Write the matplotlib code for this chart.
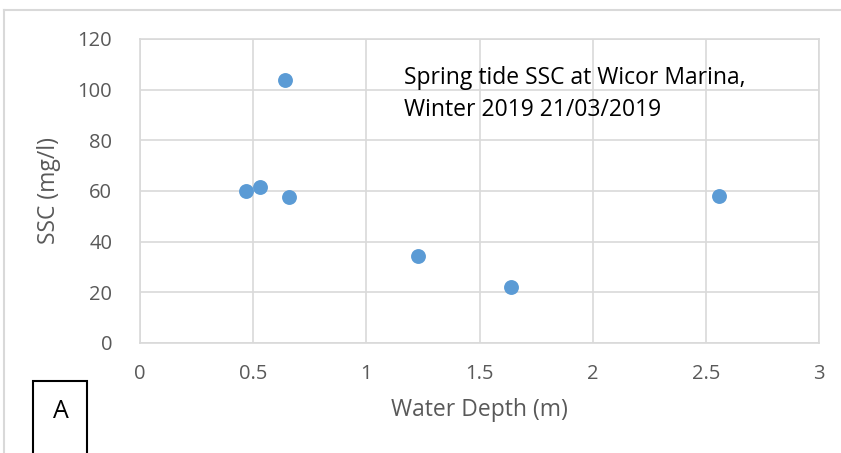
import matplotlib.pyplot as plt
from matplotlib.patches import Rectangle

plt.rcParams['font.family'] = ['Open Sans', 'DejaVu Sans']

# data
depth_m = [0.47, 0.53, 0.64, 0.66, 1.23, 1.64, 2.56]
ssc_mg_l = [60, 61.5, 104, 57.5, 34.5, 22, 58]

x_ticks = [0, 0.5, 1, 1.5, 2, 2.5, 3]
x_tick_labels = ['0', '0.5', '1', '1.5', '2', '2.5', '3']
y_ticks = [0, 20, 40, 60, 80, 100, 120]

W, H = 841, 453
fig = plt.figure(figsize=(W / 100, H / 100), dpi=100)
fig.patch.set_facecolor('white')

# outer chart frame (light grey, left + top visible)
fig.add_artist(plt.Line2D([4 / W, 4 / W], [0, 1 - 10 / H], color='#d9d9d9', lw=1.5,
                          transform=fig.transFigure))
fig.add_artist(plt.Line2D([4 / W, 1], [1 - 10 / H, 1 - 10 / H], color='#d9d9d9', lw=1.5,
                          transform=fig.transFigure))

ax = fig.add_axes([140 / W, (H - 343) / H, 679 / W, 304 / H])
ax.scatter(depth_m, ssc_mg_l, s=115, color='#5b9bd5', zorder=3, linewidths=0)

ax.set_xlim(0, 3)
ax.set_ylim(0, 120)
ax.set_xticks(x_ticks)
ax.set_xticklabels(x_tick_labels)
ax.set_yticks(y_ticks)
ax.grid(True, color='#d9d9d9', lw=1.2)
ax.set_axisbelow(True)
for s in ax.spines.values():
    s.set_color('#d9d9d9')
    s.set_linewidth(1.2)
ax.tick_params(length=0, colors='#595959', labelsize=14.5)
ax.tick_params(axis='x', pad=15)
ax.tick_params(axis='y', pad=20)

ax.set_xlabel('Water Depth (m)', color='#595959', fontsize=16.5, labelpad=10)
ax.set_ylabel('SSC (mg/l)', color='#595959', fontsize=16.5, labelpad=12)

ax.text(404 / W, 1 - 94 / H, 'Spring tide SSC at Wicor Marina,\nWinter 2019 21/03/2019',
        transform=fig.transFigure, fontsize=16.5, color='black', va='center',
        linespacing=1.4)

# "A" label box
fig.add_artist(Rectangle((33 / W, -0.05), 54 / W, 0.05 + (H - 381) / H, fill=False,
                         edgecolor='black', lw=1.5, transform=fig.transFigure))
fig.text(61 / W, 1 - 412 / H, 'A', fontsize=18, ha='center', va='center')

fig.savefig('out.png', dpi=100)
